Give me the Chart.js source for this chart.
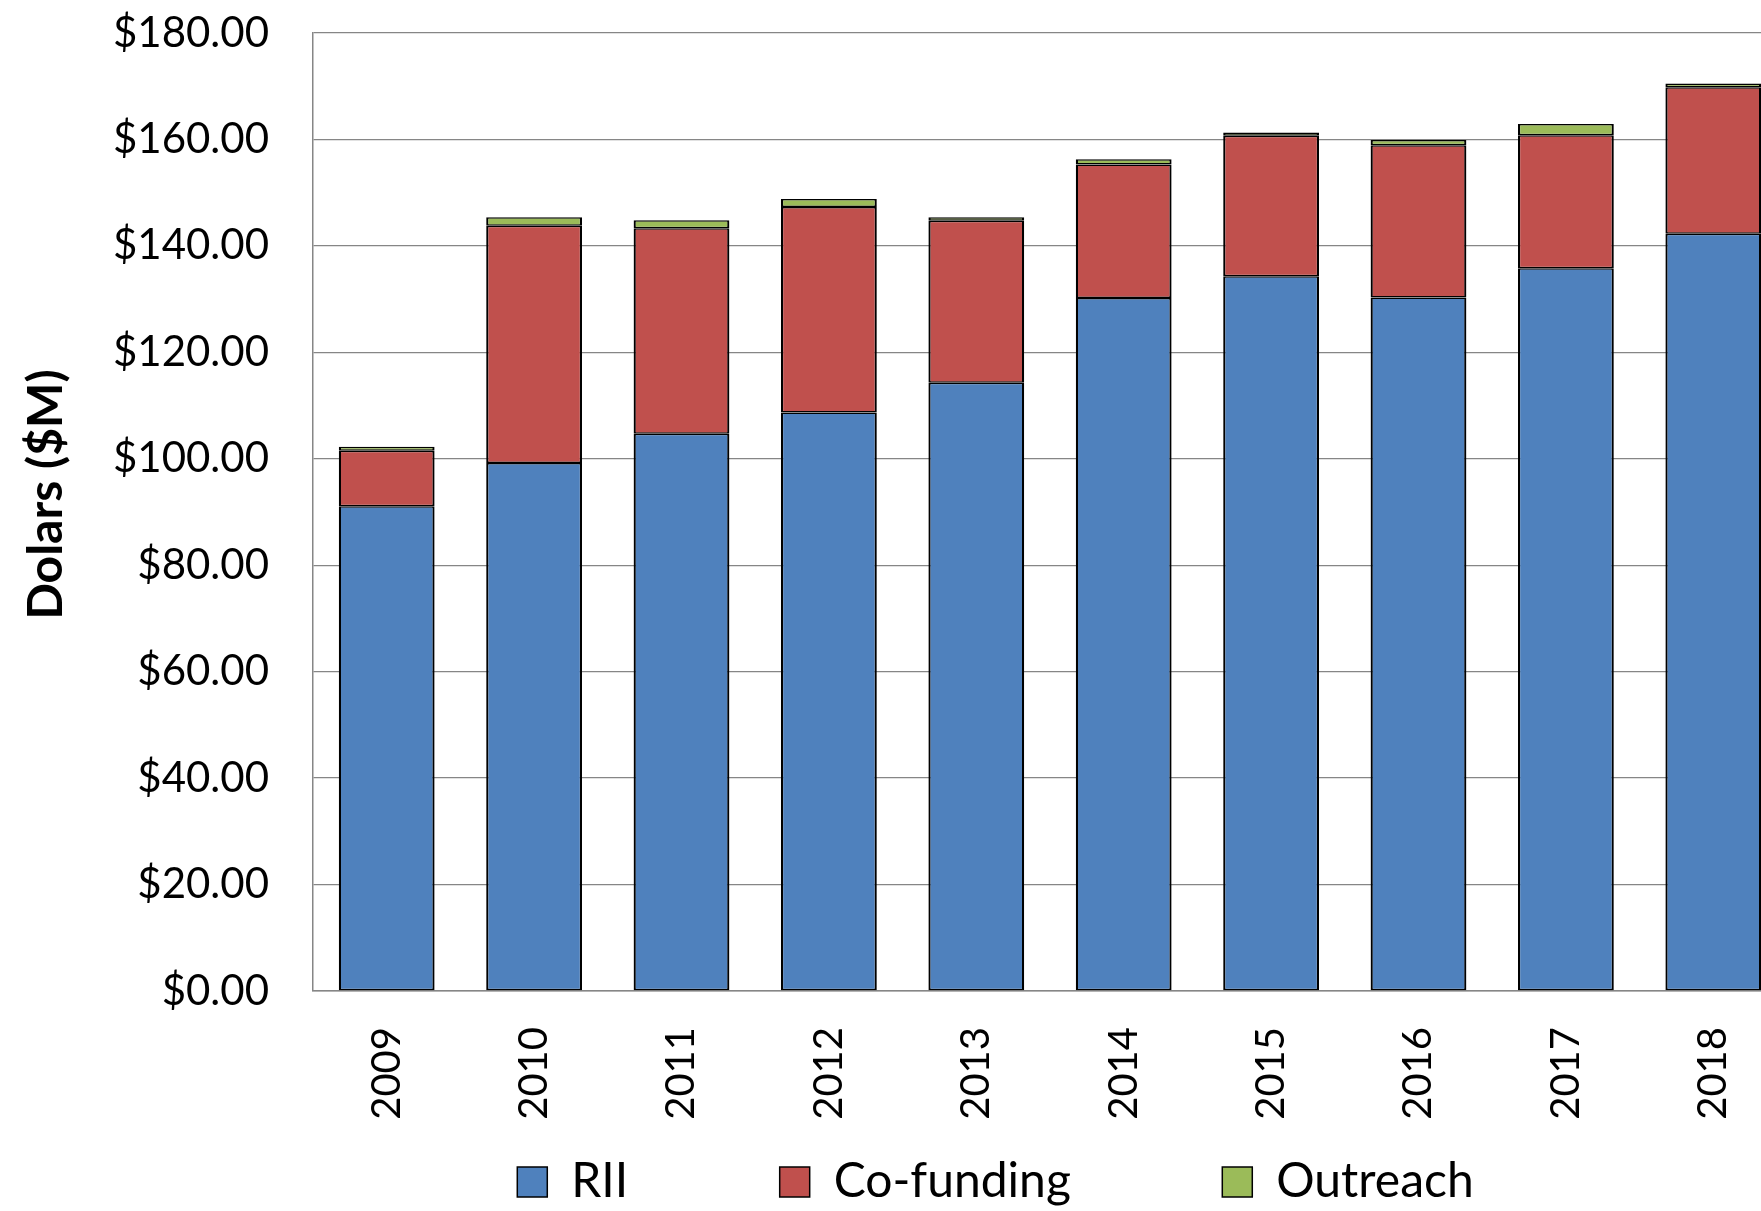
<!DOCTYPE html>
<html>
<head>
<meta charset="utf-8">
<script src="https://cdn.jsdelivr.net/npm/chart.js@4.4.1/dist/chart.umd.min.js"></script>
<style>
  html, body { margin: 0; padding: 0; background: #fff; overflow: hidden; }
</style>
</head>
<body>
<canvas id="fundChart" width="1991" height="1211"></canvas>
<script>
var years = ['2009', '2010', '2011', '2012', '2013', '2014', '2015', '2016', '2017', '2018'];
var rii = [91.1, 99.2, 104.7, 108.7, 114.3, 130.2, 134.3, 130.3, 135.8, 142.3];
var cofunding = [10.4, 44.6, 38.6, 38.6, 30.4, 25.1, 26.4, 28.6, 25.0, 27.5];
var outreach = [0.75, 1.6, 1.5, 1.5, 0.7, 1.0, 0.6, 1.0, 2.1, 0.7];
var yTicks = [0, 20, 40, 60, 80, 100, 120, 140, 160, 180];

// extra spaces after each legend text, excel spreads the entries out
var legendGap = [12, 12, 0];

Chart.defaults.font.family = 'Lato';
Chart.defaults.color = '#000';

function barSet(label, data, color) {
	return {
		label: label,
		data: data,
		backgroundColor: color,
		borderColor: '#000',
		borderWidth: { top: 1.5, bottom: 1.5, left: 2.2, right: 2.2 },
		borderSkipped: false,
		categoryPercentage: 0.65,
		barPercentage: 1
	};
}

var ctx = document.getElementById('fundChart');
var myChart = new Chart(ctx, {
	type: 'bar',
	data: {
		labels: years,
		datasets: [
			barSet('RII', rii, '#4F81BD'),
			barSet('Co-funding', cofunding, '#C0504D'),
			barSet('Outreach', outreach, '#9BBB59')
		]
	},
	options: {
		responsive: false,
		animation: false,
		layout: { padding: { top: 33, left: 0, right: 0, bottom: -5 } },
		plugins: {
			tooltip: { enabled: false },
			legend: {
				position: 'bottom',
				labels: {
					font: { size: 48 },
					boxWidth: 30,
					boxHeight: 30,
					padding: 4,
					generateLabels: function(chart) {
						var items = Chart.defaults.plugins.legend.labels.generateLabels(chart);
						items.forEach(function(it, i) {
							it.text = it.text + ' '.repeat(legendGap[i]);
							it.lineWidth = 1.5;
						});
						return items;
					}
				}
			}
		},
		scales: {
			x: {
				stacked: true,
				grid: { display: false, drawTicks: false },
				border: { color: '#868686', width: 1.5 },
				ticks: {
					font: { size: 40 },
					minRotation: 90,
					maxRotation: 90,
					padding: 36,
					autoSkip: false
				},
				afterFit: function(scale) { scale.height = 163; }
			},
			y: {
				stacked: true,
				min: 0,
				max: 180,
				afterBuildTicks: function(scale) {
					scale.ticks = yTicks.map(function(v) { return { value: v }; });
				},
				// invisible tick marks make the gap, ticks.padding would also pad the top
				grid: { color: '#868686', lineWidth: 1.3, drawTicks: true, tickLength: 40, tickColor: 'rgba(0,0,0,0)' },
				border: { color: '#868686', width: 1.5 },
				ticks: {
					font: { size: 42 },
					padding: 4,
					callback: function(v) { return '$' + Number(v).toFixed(2); }
				},
				title: {
					display: true,
					text: '   Dolars ($M)',
					font: { size: 48, weight: 'bold' },
					padding: { top: 18, bottom: 0 }
				},
				afterFit: function(scale) { scale.width = 313; }
			},
			pad: {
				type: 'linear',
				position: 'right',
				display: true,
				grid: { display: false, drawTicks: false },
				border: { display: false },
				ticks: { display: false },
				afterFit: function(scale) { scale.width = 204; }
			}
		}
	}
});
</script>
</body>
</html>
